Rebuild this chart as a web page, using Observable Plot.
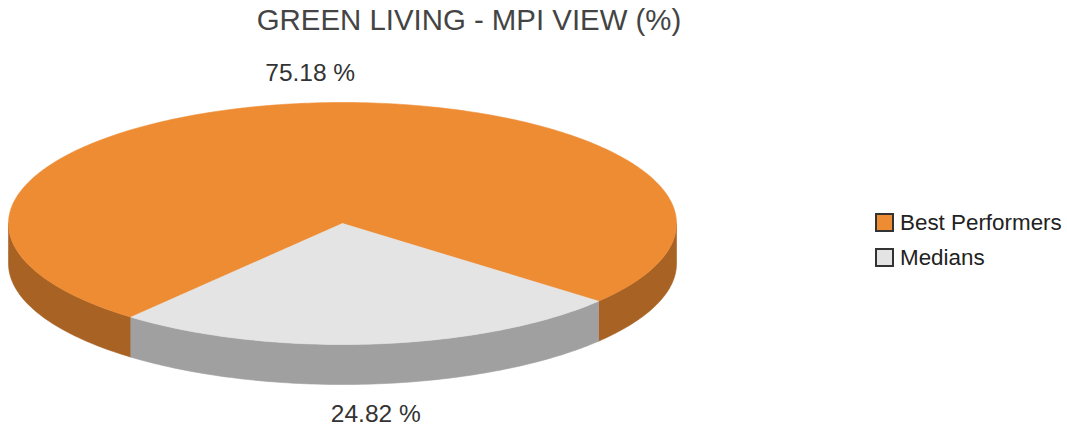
<!DOCTYPE html>
<html>
<head>
<meta charset="utf-8">
<script src="https://cdn.jsdelivr.net/npm/d3@7"></script>
<script src="https://cdn.jsdelivr.net/npm/@observablehq/plot@0.6"></script>
<style>
html,body{margin:0;padding:0;background:#fff;overflow:hidden}
#wrap{position:relative;width:1067px;height:429px;font-family:"Liberation Sans",Arial,sans-serif}
#title{position:absolute;left:0;top:2px;width:938px;text-align:center;font-size:29.4px;line-height:36px;color:#444;white-space:nowrap}
#legend{position:absolute;left:875px;top:205px}
.row{display:flex;align-items:center;height:35px;font-size:22.4px;color:#222;white-space:nowrap}
.sw{width:15px;height:15px;border:2px solid #333;margin-right:6px;flex:none}
svg{display:block}
</style>
</head>
<body>
<div id="wrap">
<div id="title"></div>
<div id="legend"></div>
<div id="chart"></div>
</div>
<script>
const titleText = "GREEN LIVING - MPI VIEW (%)";
const categories = ["Best Performers", "Medians"];
const percents = [75.18, 24.82];
const topColors = ["#ee8c34", "#e4e4e4"];
const sideColors = ["#a86224", "#a0a0a0"];

// Pie layout: pixel-like scales on the full frame
const W = 1067, H = 429;
const cx = 342, cy = 223, rx = 334, ry = 121, depth = 40;
const rad = Math.PI / 180;
const medianStart = -39.3;               // degrees from straight-down, clockwise to the right
const medianSpan = percents[1] / 100 * 360;
const medianEnd = medianStart + medianSpan;
const orangeSpan = percents[0] / 100 * 360;

const pt = (t, dy = 0) => ({x: cx + rx * Math.sin(t * rad), y: cy + ry * Math.cos(t * rad) + dy});
const arc = (a, b, dy = 0) => {
  const n = Math.max(2, Math.ceil(Math.abs(b - a)));
  return d3.range(n + 1).map(i => pt(a + (b - a) * i / n, dy));
};
const wedge = (a, b) => [{x: cx, y: cy}, ...arc(a, b), {x: cx, y: cy}];
const side = (a, b) => [...arc(a, b), ...arc(b, a, depth)];

const poly = (data, color) => Plot.line(data, {
  x: "x", y: "y", fill: color, stroke: color, strokeWidth: 0.6, curve: "linear-closed"
});

const midMed = (medianStart + medianEnd) / 2;
const labels = [
  {text: percents[0].toFixed(2) + " %", x: cx - rx * Math.sin(midMed * rad) - 1, y: cy - ry - 29},
  {text: percents[1].toFixed(2) + " %", x: cx + rx * Math.sin(midMed * rad) + 2, y: cy + ry + depth + 30}
];

const chart = Plot.plot({
  width: W, height: H,
  margin: 0,
  x: {domain: [0, W], range: [0, W], axis: null},
  y: {domain: [0, H], range: [0, H], axis: null},
  style: {background: "transparent"},
  marks: [
    poly(side(-90, medianStart), sideColors[0]),
    poly(side(medianEnd, 90), sideColors[0]),
    poly(side(medianStart, medianEnd), sideColors[1]),
    poly(wedge(medianEnd, medianEnd + orangeSpan), topColors[0]),
    poly(wedge(medianStart, medianEnd), topColors[1]),
    Plot.text(labels, {
      x: "x", y: "y", text: "text", fontSize: 24.5,
      fontFamily: '"Liberation Sans",Arial,sans-serif', fill: "#333", textAnchor: "middle"
    })
  ]
});
document.getElementById("chart").appendChild(chart);
document.getElementById("title").textContent = titleText;
const lg = document.getElementById("legend");
categories.forEach((c, i) => {
  const r = document.createElement("div"); r.className = "row";
  const s = document.createElement("span"); s.className = "sw"; s.style.background = topColors[i];
  const t = document.createElement("span"); t.textContent = c;
  r.append(s, t); lg.append(r);
});
</script>
</body>
</html>
